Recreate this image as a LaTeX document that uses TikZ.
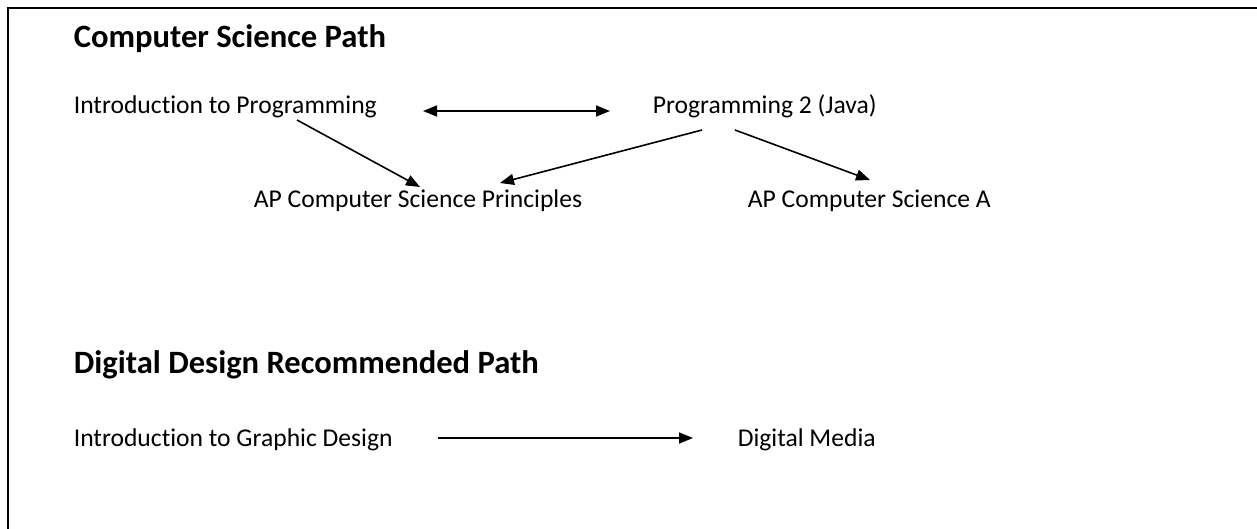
\documentclass[tikz,border=0pt]{standalone}
\usepackage{fontspec}
\setmainfont{Carlito}[Ligatures=NoCommon]
\usetikzlibrary{arrows.meta}
\tikzset{
    txt/.style={anchor=base west, inner sep=0pt, font=\fontsize{25.6}{30}\selectfont},
    ttl/.style={anchor=base west, inner sep=0pt, font=\bfseries\fontsize{32.6}{38}\selectfont},
}
\begin{document}
\begin{tikzpicture}[x=1pt, y=-1pt, line width=1.6pt, >={Triangle[length=14pt,width=11pt]}]
            \useasboundingbox[fill=white] (0,0) rectangle (1257,529) ;
            \draw[line width=2.2pt] (8,529) -- (8,8) -- (1257,8) ;
            
            % computer science
            \node[ttl] (cstitle) at (73,48) {Computer Science Path} ;
            \node[txt] (intro) at (73,114) {Introduction to Programming} ;
            \node[txt] (prog) at (652,114) {Programming 2 (Java)} ;
            \node[txt] (apcsp) at (253,208) {AP Computer Science Principles} ;
            \node[txt] (apcsa) at (747,208) {AP Computer Science A} ;
            \draw[<->] ([shift={(350,-3)}]intro.base west) -- ([shift={(-42,-3)}]prog.base west) ;
            \draw[->] ([shift={(224,6)}]intro.base west) -- ([shift={(167,-21)}]apcsp.base west) ;
            \draw[->] ([shift={(50,16)}]prog.base west) -- ([shift={(247,-25)}]apcsp.base west) ;
            \draw[->] ([shift={(83,16)}]prog.base west) -- ([shift={(123,-28)}]apcsa.base west) ;
            
            % digital design
            \node[ttl] (ddtitle) at (73,373) {Digital Design Recommended Path} ;
            \node[txt] (introgd) at (73,446) {Introduction to Graphic Design} ;
            \node[txt] (media) at (737,446) {Digital Media} ;
            \draw[->] ([shift={(365,-8)}]introgd.base west) -- ([shift={(-44,-8)}]media.base west) ;
        \end{tikzpicture}
\end{document}
